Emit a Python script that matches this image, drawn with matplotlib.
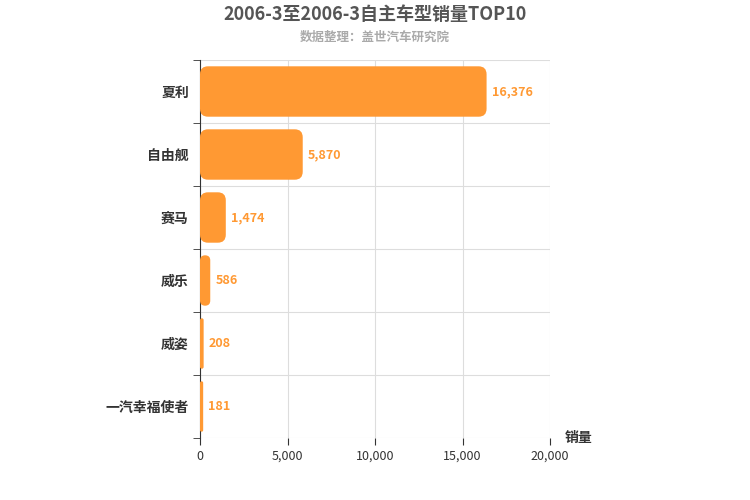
import matplotlib
matplotlib.use("Agg")
import matplotlib.pyplot as plt
from matplotlib.patches import FancyBboxPatch

plt.rcParams["font.family"] = ["Noto Sans CJK SC", "DejaVu Sans"]

categories = ["夏利", "自由舰", "赛马", "威乐", "威姿", "一汽幸福使者"]
values = [16376, 5870, 1474, 586, 208, 181]
xticks = [0, 5000, 10000, 15000, 20000]
xticklabels = ["0", "5,000", "10,000", "15,000", "20,000"]

fig = plt.figure(figsize=(7.5, 5), dpi=100)
ax = fig.add_axes([200/750, 62/500, 350/750, 378/500])
n = len(categories)
ypos = list(range(n))
bars = ax.barh(ypos, values, height=0.8, color="#ff9933")
ax.set_xlim(0, 20000)
ax.set_ylim(n - 0.5, -0.5)

# rounded bars
xunit = 20000/350
yunit = n/378
for b in bars:
    x0, y0, w, h = b.get_x(), b.get_y(), b.get_width(), b.get_height()
    b.set_visible(False)
    r = min(8*xunit, w/2)
    p = FancyBboxPatch((x0, y0), w, h, boxstyle=f"round,pad=0,rounding_size={r}",
                       mutation_aspect=yunit/xunit, fc="#ff9933", ec="none", zorder=3)
    ax.add_patch(p)

for y, v in zip(ypos, values):
    ax.text(v + 300, y, f"{v:,}", va="center", ha="left", color="#ff9933",
            fontsize=9, fontweight="bold")

ax.set_xticks(xticks)
ax.set_xticklabels(xticklabels, fontsize=9, color="#333333")
ax.set_yticks(ypos)
ax.set_yticklabels(categories, fontsize=10, fontweight="bold", color="#333333")
ax.tick_params(axis="y", length=0, pad=8)
ax.tick_params(axis="x", length=5, color="#333333")
ax.set_yticks([i - 0.5 for i in range(n + 1)], minor=True)
ax.tick_params(axis="y", which="minor", length=5, color="#333333")
ax.grid(axis="x", color="#dddddd", lw=0.8, zorder=0)
ax.grid(axis="y", which="minor", color="#dddddd", lw=0.8, zorder=0)
ax.set_axisbelow(True)
for s in ["top", "right", "bottom"]:
    ax.spines[s].set_visible(False)
ax.spines["left"].set_color("#333333")

fig.text(0.5, 0.972, "2006-3至2006-3自主车型销量TOP10", ha="center", va="center",
         fontsize=13, fontweight="bold", color="#555555")
fig.text(0.5, 0.925, "数据整理：盖世汽车研究院", ha="center", va="center",
         fontsize=9, fontweight="bold", color="#aaaaaa")
fig.text(565/750, 1 - 438/500, "销量", ha="left", va="center", fontsize=10,
         fontweight="bold", color="#333333")

fig.savefig("out.png", dpi=100)
